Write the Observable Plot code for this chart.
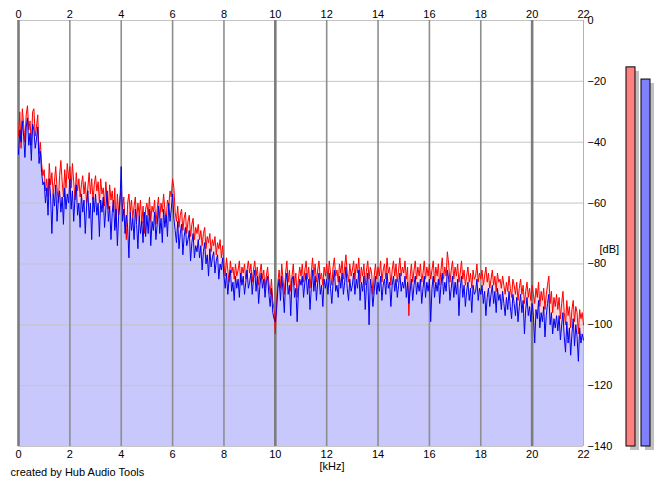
<!DOCTYPE html>
<html>
<head>
<meta charset="utf-8">
<script src="https://cdn.jsdelivr.net/npm/d3@7"></script>
<script src="https://cdn.jsdelivr.net/npm/@observablehq/plot@0.6"></script>
<style>
  html, body { margin: 0; padding: 0; background: #ffffff; }
  #wrap { position: relative; width: 665px; height: 487px; overflow: hidden; }
  #meters { position: absolute; left: 620px; top: 0px; }
</style>
</head>
<body>
<div id="wrap"><div id="main"></div><div id="meters"></div></div>
<script>
// Spectrum bin spacing (kHz)
const binStep = 0.05;

// Left channel (red) spectrum, dB, 0 .. 22 kHz (20 bins per kHz)
const redDb = [
  -38,-30,-42,-29,-34,-40,-31,-28,-36,-33,-41,-30,-29,-38,-35,-31,-44,-40,-47,-51,
  -49,-56,-52,-58,-47,-54,-50,-57,-53,-48,-55,-60,-51,-46,-53,-58,-49,-55,-47,-52,
  -48,-55,-47,-53,-59,-50,-56,-52,-58,-54,-51,-57,-53,-60,-55,-50,-57,-52,-59,-54,
  -51,-56,-53,-60,-52,-57,-55,-61,-53,-58,-62,-54,-59,-56,-63,-55,-68,-57,-64,-58,
  -56,-62,-58,-66,-72,-60,-57,-63,-59,-65,-61,-58,-66,-60,-64,-59,-67,-61,-70,-62,
  -60,-64,-58,-66,-61,-63,-59,-67,-62,-58,-65,-60,-63,-57,-62,-66,-59,-61,-56,-58,
  -52,-55,-63,-66,-61,-68,-64,-62,-69,-65,-63,-70,-66,-64,-71,-67,-65,-72,-68,-70,
  -67,-72,-69,-74,-70,-68,-75,-71,-73,-70,-76,-72,-74,-71,-77,-73,-75,-72,-78,-74,
  -80,-84,-78,-82,-86,-79,-83,-81,-85,-80,-84,-82,-79,-86,-81,-83,-80,-85,-82,-79,
  -83,-80,-86,-82,-79,-84,-81,-87,-83,-80,-85,-82,-88,-84,-81,-86,-90,-85,-92,-95,
  -103,-92,-86,-82,-88,-80,-85,-90,-83,-79,-86,-82,-89,-84,-80,-87,-83,-91,-85,-81,
  -84,-80,-86,-82,-79,-85,-81,-88,-83,-78,-84,-80,-86,-82,-79,-85,-83,-87,-81,-84,
  -80,-85,-79,-83,-87,-81,-78,-84,-82,-86,-80,-83,-79,-85,-81,-77,-83,-86,-80,-84,
  -82,-79,-85,-80,-83,-78,-86,-81,-84,-80,-87,-82,-79,-85,-81,-83,-90,-84,-80,-85,
  -81,-84,-79,-86,-82,-80,-85,-78,-83,-81,-87,-82,-79,-84,-80,-86,-82,-78,-84,-81,
  -83,-79,-85,-81,-97,-84,-80,-86,-82,-79,-85,-81,-84,-80,-86,-83,-79,-85,-81,-84,
  -80,-85,-82,-79,-86,-81,-84,-80,-87,-82,-78,-85,-81,-84,-76,-80,-86,-82,-79,-85,
  -81,-84,-80,-86,-83,-79,-85,-82,-87,-84,-81,-86,-83,-88,-82,-85,-84,-80,-86,-83,
  -85,-82,-87,-84,-81,-86,-83,-88,-85,-82,-87,-84,-89,-83,-86,-85,-88,-84,-87,-90,
  -86,-89,-84,-88,-91,-85,-87,-90,-86,-92,-88,-85,-90,-87,-93,-89,-86,-91,-88,-92,
  -87,-90,-93,-88,-91,-86,-94,-89,-92,-88,-95,-90,-87,-84,-93,-89,-96,-91,-94,-90,
  -95,-91,-98,-93,-89,-96,-100,-92,-97,-94,-101,-95,-92,-99,-94,-96,-103,-95,-98,-96,
  -100
];

// Right channel (blue) spectrum, dB
const blueDb = [
  -44,-36,-40,-33,-38,-45,-35,-32,-41,-37,-46,-34,-36,-42,-39,-35,-47,-43,-50,-54,
  -53,-60,-55,-64,-52,-58,-70,-57,-61,-54,-66,-59,-56,-63,-58,-67,-55,-62,-57,-60,
  -52,-62,-56,-66,-58,-54,-64,-60,-68,-57,-63,-59,-70,-61,-56,-65,-60,-72,-58,-63,
  -57,-64,-60,-71,-59,-63,-58,-68,-62,-56,-66,-61,-72,-63,-59,-69,-62,-74,-64,-60,
  -48,-66,-62,-70,-64,-68,-78,-63,-69,-65,-72,-62,-67,-75,-64,-70,-66,-73,-63,-71,
  -64,-70,-62,-74,-66,-69,-63,-72,-67,-61,-70,-65,-73,-62,-68,-64,-71,-60,-66,-62,
  -57,-65,-69,-73,-66,-75,-70,-67,-77,-71,-68,-74,-72,-69,-79,-73,-70,-78,-74,-76,
  -72,-78,-74,-82,-76,-73,-80,-77,-84,-75,-81,-78,-76,-83,-79,-77,-85,-80,-82,-78,
  -84,-88,-83,-90,-85,-82,-89,-86,-92,-84,-88,-85,-91,-83,-87,-84,-90,-86,-82,-88,
  -86,-83,-90,-85,-82,-89,-84,-93,-87,-83,-88,-85,-91,-86,-84,-90,-94,-88,-96,-98,
  -99,-95,-88,-85,-92,-84,-89,-96,-86,-83,-90,-87,-97,-85,-84,-91,-88,-99,-89,-85,
  -87,-84,-91,-86,-83,-90,-85,-95,-88,-82,-89,-84,-92,-86,-83,-90,-87,-94,-85,-88,
  -85,-90,-83,-88,-93,-86,-82,-89,-87,-91,-84,-88,-83,-90,-86,-81,-88,-92,-85,-89,
  -87,-83,-90,-85,-88,-82,-92,-86,-89,-84,-95,-87,-83,-100,-85,-88,-94,-89,-84,-90,
  -86,-89,-84,-92,-87,-85,-90,-83,-88,-86,-94,-87,-84,-89,-85,-91,-87,-83,-89,-86,
  -88,-84,-91,-86,-93,-89,-85,-92,-87,-84,-90,-86,-89,-85,-93,-88,-84,-91,-86,-89,
  -85,-99,-88,-84,-91,-86,-89,-85,-93,-87,-83,-90,-86,-89,-82,-85,-92,-88,-84,-91,
  -86,-90,-85,-97,-88,-84,-91,-87,-94,-89,-86,-92,-88,-96,-87,-90,-89,-85,-92,-88,
  -90,-87,-93,-89,-97,-91,-88,-94,-90,-87,-93,-89,-96,-88,-92,-90,-95,-89,-93,-97,
  -91,-95,-89,-94,-98,-90,-93,-97,-91,-99,-94,-90,-96,-92,-103,-95,-91,-97,-94,-99,
  -93,-97,-106,-95,-98,-92,-101,-96,-99,-94,-104,-97,-93,-90,-100,-96,-103,-98,-101,-97,
  -102,-97,-105,-100,-96,-104,-109,-99,-106,-101,-110,-103,-98,-107,-100,-104,-112,-101,-106,-103,
  -105
];

// Axis ticks
const kHzTicks = [0, 2, 4, 6, 8, 10, 12, 14, 16, 18, 20, 22];
const majorKHz = [0, 10, 20];
const minorKHz = [2, 4, 6, 8, 12, 14, 16, 18];
const dbTicks = [0, -20, -40, -60, -80, -100, -120, -140];

// Level meters
const meterChannels = ["L", "R"];
const meterLevels = [-15.4, -19.4];
const meterColors = ["#ff8080", "#8080ff"];

const dbFloor = -140;

const spectrum = redDb.map((r, i) => ({ f: i * binStep, r, b: blueDb[i] }));
const meters = meterChannels.map((ch, i) => ({ ch, v: meterLevels[i], c: meterColors[i] }));

const font = "'Liberation Sans', Arial, sans-serif";

const main = Plot.plot({
  width: 665,
  height: 487,
  marginLeft: 18,
  marginRight: 82,
  marginTop: 20,
  marginBottom: 41,
  x: { domain: [0, 22] },
  y: { domain: [dbFloor, 0] },
  style: { fontFamily: font, fontSize: "11px", background: "#ffffff", color: "#000000" },
  marks: [
    Plot.areaY(spectrum, { x: "f", y1: dbFloor, y2: "r", fill: "#ffd6d6" }),
    Plot.areaY(spectrum, { x: "f", y1: dbFloor, y2: "b", fill: "#c8c8fc" }),
    Plot.gridY(dbTicks, { stroke: "#c4c4c4", strokeOpacity: 1, strokeWidth: 1 }),
    Plot.gridX(minorKHz, { stroke: "#8e8e8e", strokeOpacity: 1, strokeWidth: 1.6 }),
    Plot.gridX(majorKHz, { stroke: "#7c7c7c", strokeOpacity: 1, strokeWidth: 2.6 }),
    Plot.ruleX([22], { stroke: "#b4b4b4", strokeWidth: 1 }),
    Plot.line(spectrum, { x: "f", y: "r", stroke: "#ff0000", strokeWidth: 1 }),
    Plot.line(spectrum, { x: "f", y: "b", stroke: "#0000f0", strokeWidth: 1 }),
    Plot.axisX(kHzTicks, { anchor: "top", tickSize: 0, tickPadding: 3, label: null }),
    Plot.axisX(kHzTicks, { anchor: "bottom", tickSize: 0, tickPadding: 4, label: null }),
    Plot.axisY(dbTicks, { anchor: "right", tickSize: 0, tickPadding: 4, label: null }),
    Plot.text(["[kHz]"], { frameAnchor: "bottom", dx: 31, dy: 23, fontSize: 11 }),
    Plot.text(["[dB]"], { frameAnchor: "right", textAnchor: "start", dx: 16, dy: 16, fontSize: 11 }),
    Plot.text(["created by Hub Audio Tools"], { frameAnchor: "bottom-left", textAnchor: "start", dx: -8, dy: 29, fontSize: 11 })
  ]
});
document.getElementById("main").appendChild(main);

const meterPlot = Plot.plot({
  width: 40,
  height: 487,
  marginLeft: 5,
  marginRight: 10,
  marginTop: 20,
  marginBottom: 41,
  x: { domain: meterChannels, paddingInner: 0.4, paddingOuter: 0, axis: null },
  y: { domain: [dbFloor, 0], axis: null },
  style: { background: "transparent" },
  marks: [
    Plot.barY(meters, { x: "ch", y1: dbFloor, y2: "v", fill: "#c0c0c0", dx: 4, dy: 4 }),
    Plot.barY(meters, { x: "ch", y1: dbFloor, y2: "v", fill: "c", stroke: "#000000", strokeWidth: 1 })
  ]
});
document.getElementById("meters").appendChild(meterPlot);
</script>
</body>
</html>
